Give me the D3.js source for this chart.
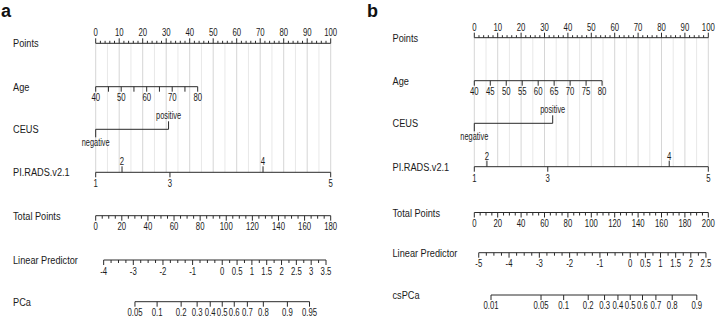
<!DOCTYPE html>
<html><head><meta charset="utf-8">
<script src="https://cdn.jsdelivr.net/npm/d3@7"></script>
<style>
html,body{margin:0;padding:0;background:#fff;}
svg text{font-family:"Liberation Sans",Arial,sans-serif;fill:#1a1a1a;}
</style></head>
<body><svg id="chart" width="722" height="326"></svg>
<script>
// ---------- data ----------
const panelTitles = ["a", "b"];
const pointLabels = [0,10,20,30,40,50,60,70,80,90,100];

// Panel a
const ageTicksA = [40,45,50,55,60,65,70,75,80];
const ageLabelsA = [40,50,60,70,80];
const agePointsA = [0, 43.4];              // points at age 40 and 80
const ceusCats = ["negative","positive"];
const ceusPointsA = [0, 31.0];
const piradsCats = ["1","2","3","4","5"];
const piradsPointsA = [0, 11.2, 31.6, 71.2, 100];
const totalLabelsA = [0,20,40,60,80,100,120,140,160,180];
const lpLabelsA = [-4,-3,-2,-1,0,0.5,1,1.5,2,2.5,3,3.5];
const lpEndsA = [-4, 3.5];
const lpTotalA = [6.1, 176.4];             // total points at LP ends
const probNameA = "PCa";
const probLabelsA = [0.05,0.1,0.2,0.3,0.4,0.5,0.6,0.7,0.8,0.9,0.95];

// Panel b
const ageTicksB = [40,45,50,55,60,65,70,75,80];
const ageLabelsB = [40,45,50,55,60,65,70,75,80];
const agePointsB = [0, 54.6];
const ceusPointsB = [0, 33.5];
const piradsPointsB = [0, 5.4, 31.4, 83.3, 100];
const totalLabelsB = [0,20,40,60,80,100,120,140,160,180,200];
const lpLabelsB = [-5,-4,-3,-2,-1,0,0.5,1,1.5,2,2.5];
const lpEndsB = [-5, 2.5];
const lpTotalB = [3.8, 198.0];
const probNameB = "csPCa";
const probLabelsB = [0.01,0.05,0.1,0.2,0.3,0.4,0.5,0.6,0.7,0.8,0.9];

const rowNames = ["Points","Age","CEUS","PI.RADS.v2.1","Total Points","Linear Predictor"];

// ---------- layout ----------
const panels = [
  {title: panelTitles[0], tx: 1, ty: 17, labelX: 13, x0: 95.7, x1: 330.7,
   rows: [43.3, 86.7, 129.3, 172.3, 215.7, 260, 301.7],
   ageTicks: ageTicksA, ageLabels: ageLabelsA, agePts: agePointsA,
   ceusPts: ceusPointsA, piradsPts: piradsPointsA,
   totalLabels: totalLabelsA, lpLabels: lpLabelsA, lpEnds: lpEndsA, lpTotal: lpTotalA,
   probName: probNameA, probLabels: probLabelsA},
  {title: panelTitles[1], tx: 367, ty: 17, labelX: 392.5, x0: 474.3, x1: 708.3,
   rows: [37.7, 80.7, 123.3, 166.7, 212.5, 252.7, 295],
   ageTicks: ageTicksB, ageLabels: ageLabelsB, agePts: agePointsB,
   ceusPts: ceusPointsB, piradsPts: piradsPointsB,
   totalLabels: totalLabelsB, lpLabels: lpLabelsB, lpEnds: lpEndsB, lpTotal: lpTotalB,
   probName: probNameB, probLabels: probLabelsB}
];

const svg = d3.select("#chart");
const INK = "#2a2a2a";
const TF = 10.5;  // tick font
const LF = 11.5;  // row label font
const SX = 0.74;  // horizontal condensing of tick text (narrow face in reference)
const SXL = 0.8;  // condensing of row labels

function hline(g, xa, xb, y){
  g.append("line").attr("x1",xa).attr("x2",xb).attr("y1",y).attr("y2",y)
   .attr("stroke",INK).attr("stroke-width",1);
}
function tick(g, x, y, len){
  g.append("line").attr("x1",x).attr("x2",x).attr("y1",y).attr("y2",y+len)
   .attr("stroke",INK).attr("stroke-width",1);
}
function label(g, x, y, t, size, anchor, sx){
  g.append("text").attr("transform",`translate(${x},${y}) scale(${sx||SX},1)`)
   .attr("text-anchor",anchor||"middle")
   .attr("font-size",size||TF).text(t);
}

panels.forEach(p => {
  const g = svg.append("g");
  const R = p.rows;
  const pts = d3.scaleLinear().domain([0,100]).range([p.x0, p.x1]);

  // panel letter
  g.append("text").attr("x",p.tx).attr("y",p.ty).attr("font-size",18)
   .attr("font-weight","bold").style("fill","#111").text(p.title);

  // grid lines
  d3.range(0,101,5).forEach(v => {
    g.append("line").attr("x1",pts(v)).attr("x2",pts(v)).attr("y1",R[0]).attr("y2",R[3])
     .attr("stroke", v%10===0 ? "#d6d6d6" : "#e8e8e8").attr("stroke-width",1);
  });

  // row labels
  rowNames.concat([p.probName]).forEach((n,i) => {
    label(g, p.labelX, R[i]+4, n, LF, "start", SXL);
  });

  // Points axis
  hline(g, p.x0, p.x1, R[0]);
  d3.range(0,101,2).forEach(v => tick(g, pts(v), R[0], v%10===0 ? -5 : -2.5));
  pointLabels.forEach(v => label(g, pts(v), R[0]-7, v));

  // Age
  const age = d3.scaleLinear().domain([40,80]).range([pts(p.agePts[0]), pts(p.agePts[1])]);
  hline(g, age(40), age(80), R[1]);
  p.ageTicks.forEach(v => tick(g, age(v), R[1], 5));
  p.ageLabels.forEach(v => label(g, age(v), R[1]+14.5, v));

  // CEUS
  const cx = p.ceusPts.map(v => pts(v));
  hline(g, cx[0], cx[1], R[2]);
  tick(g, cx[0], R[2], 8);
  tick(g, cx[1], R[2], -8);
  label(g, cx[0], R[2]+16.5, ceusCats[0], 10);
  label(g, cx[1], R[2]-10.5, ceusCats[1], 10);

  // PI-RADS
  const px = p.piradsPts.map(v => pts(v));
  hline(g, d3.min(px), d3.max(px), R[3]);
  piradsCats.forEach((c,i) => {
    const up = (i%2===1);
    tick(g, px[i], R[3], up ? -6 : 5);
    label(g, px[i], up ? R[3]-7 : R[3]+15, c);
  });

  // Total points
  const tmax = p.totalLabels[p.totalLabels.length-1];
  const tot = d3.scaleLinear().domain([0,tmax]).range([p.x0, p.x1]);
  hline(g, tot(0), tot(tmax), R[4]);
  d3.range(0,tmax+0.1,5).forEach(v => tick(g, tot(v), R[4], v%20===0 ? 5 : 3));
  p.totalLabels.forEach(v => label(g, tot(v), R[4]+14.5, v));

  // Linear predictor
  const lp = d3.scaleLinear().domain(p.lpEnds).range([tot(p.lpTotal[0]), tot(p.lpTotal[1])]);
  hline(g, lp(p.lpEnds[0]), lp(p.lpEnds[1]), R[5]);
  const labSet = new Set(p.lpLabels.map(String));
  d3.range(p.lpEnds[0], p.lpEnds[1]+0.01, 0.25).forEach(v => {
    tick(g, lp(v), R[5], labSet.has(String(+v.toFixed(2))) ? 5 : 3);
  });
  p.lpLabels.forEach(v => label(g, lp(v), R[5]+14.5, v));

  // Probability
  const logit = q => Math.log(q/(1-q));
  const pr = p.probLabels;
  hline(g, lp(logit(pr[0])), lp(logit(pr[pr.length-1])), R[6]);
  pr.forEach(v => {
    tick(g, lp(logit(v)), R[6], 5);
    label(g, lp(logit(v)), R[6]+14, v);
  });
});
</script></body></html>
